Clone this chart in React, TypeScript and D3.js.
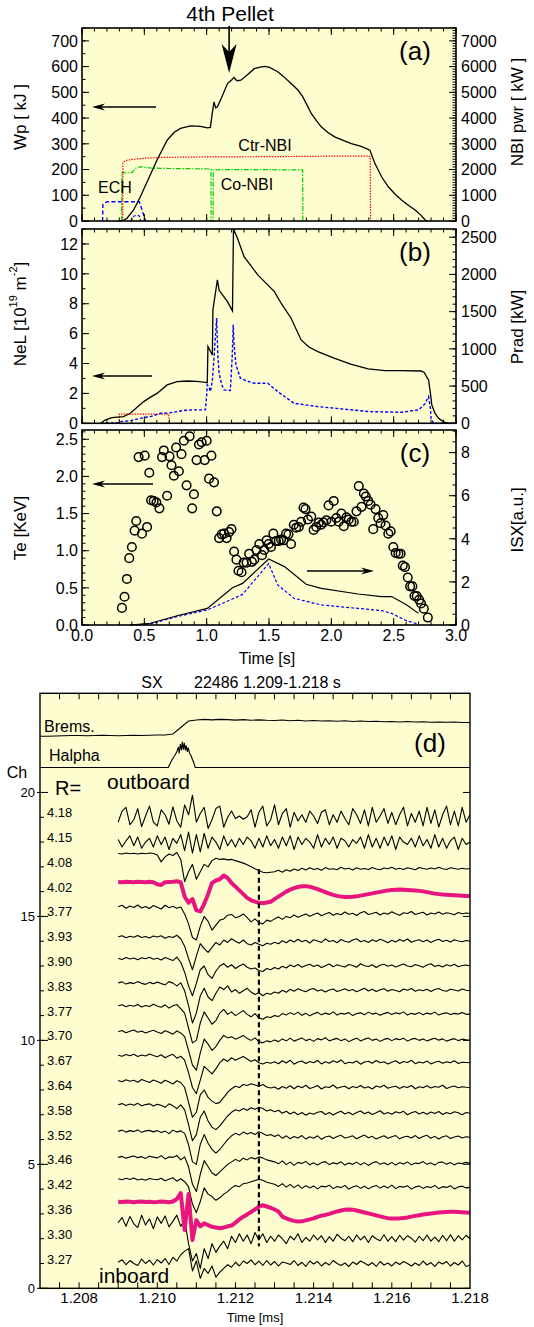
import React from 'react';
import * as d3 from 'd3';

// ---------- (a) stored energy and heating power ----------
const wpTime = [0.29, 0.33, 0.36, 0.414, 0.468, 0.53, 0.602, 0.683, 0.74, 0.79, 0.871, 0.95, 1.005, 1.03, 1.045, 1.059, 1.072, 1.086, 1.12, 1.167, 1.2, 1.22, 1.232, 1.245, 1.274, 1.32, 1.382, 1.43, 1.462, 1.5, 1.57, 1.62, 1.677, 1.73, 1.77, 1.8, 1.839, 1.88, 1.919, 1.97, 2.027, 2.1, 2.161, 2.24, 2.31, 2.349, 2.403, 2.457, 2.51, 2.565, 2.62, 2.672, 2.72, 2.753, 2.77];
const wpValue = [0, 2, 10, 43, 94, 160, 237, 314, 345, 360, 370, 368, 362, 364, 420, 463, 440, 444, 480, 534, 548, 558, 550, 545, 547, 565, 592, 598, 601, 598, 580, 560, 534, 510, 483, 455, 418, 390, 366, 345, 327, 312, 301, 290, 275, 224, 172, 133, 105, 81, 60, 43, 22, 4, 0];

const ctrNbiTime = [0.326, 0.328, 0.335, 0.36, 0.42, 0.5, 0.63, 0.8, 1.0, 1.5, 2.0, 2.3, 2.312, 2.315];
const ctrNbiValue = [0, 2240, 2300, 2360, 2400, 2440, 2470, 2480, 2490, 2500, 2520, 2520, 2500, 0];

const coNbiTime = [0.318, 0.32, 0.33, 0.36, 0.4, 0.43, 0.47, 0.55, 0.7, 0.9, 1.035, 1.036, 1.052, 1.053, 1.2, 1.4, 1.6, 1.77, 1.772];
const coNbiValue = [0, 1875, 1880, 1870, 1880, 2050, 2110, 2060, 2040, 2030, 2020, 0, 0, 1990, 2000, 2000, 1990, 1990, 0];

const echTime = [0.165, 0.168, 0.2, 0.46, 0.49, 0.51];
const echValue = [0, 650, 750, 750, 300, 0];
const ech2Time = [0.39, 0.41, 0.44, 0.46, 0.47];
const ech2Value = [0, 180, 230, 200, 0];

// ---------- (b) line density and radiated power ----------
const nelTime = [0.15, 0.185, 0.24, 0.333, 0.387, 0.44, 0.495, 0.55, 0.602, 0.683, 0.763, 0.844, 0.92, 1.005, 1.01, 1.046, 1.05, 1.06, 1.086, 1.1, 1.167, 1.207, 1.215, 1.247, 1.3, 1.41, 1.543, 1.6, 1.677, 1.758, 1.82, 1.892, 2.027, 2.161, 2.296, 2.43, 2.565, 2.72, 2.745, 2.765, 2.78, 2.795, 2.806, 2.83, 2.86, 2.9, 2.94, 3.0];
const nelValue = [0, 0.22, 0.38, 0.45, 0.67, 1.05, 1.45, 1.75, 2.0, 2.57, 2.79, 2.83, 2.8, 2.72, 5.13, 4.57, 7.6, 8.14, 9.6, 8.9, 8.14, 7.52, 13.0, 12.38, 11.15, 9.93, 8.81, 8.0, 7.03, 5.58, 5.1, 4.8, 4.35, 3.95, 3.64, 3.52, 3.52, 3.5, 3.4, 3.1, 2.9, 2.0, 1.23, 0.7, 0.33, 0.1, 0, 0];

const pradTime = [0.15, 0.3, 0.306, 0.36, 0.4, 0.468, 0.55, 0.63, 0.7, 0.763, 0.83, 0.898, 0.99, 1.0, 1.005, 1.02, 1.03, 1.045, 1.06, 1.08, 1.09, 1.1, 1.12, 1.14, 1.19, 1.205, 1.213, 1.22, 1.235, 1.27, 1.32, 1.38, 1.49, 1.57, 1.7, 1.89, 2.03, 2.3, 2.56, 2.7, 2.75, 2.78, 2.795, 2.8, 2.82, 3.0];
const pradValue = [0, 10, 22, 30, 40, 67, 90, 135, 140, 157, 175, 180, 180, 380, 516, 480, 426, 560, 900, 1414, 900, 673, 520, 449, 440, 900, 1324, 1050, 785, 606, 570, 538, 538, 426, 269, 224, 202, 157, 148, 180, 260, 359, 200, 67, 0, 0];

const nelRefTime = [0.298, 0.3, 0.696, 0.7];
const nelRefValue = [0, 0.62, 0.62, 0];

// ---------- (c) electron temperature and soft X-ray ----------
const teTime = [0.32, 0.341, 0.36, 0.379, 0.4, 0.422, 0.435, 0.481, 0.522, 0.454, 0.503, 0.54, 0.554, 0.575, 0.597, 0.621, 0.642, 0.656, 0.683, 0.702, 0.718, 0.737, 0.755, 0.777, 0.798, 0.817, 0.839, 0.863, 0.884, 0.898, 0.919, 0.938, 0.96, 0.984, 1.0, 1.019, 1.038, 1.059, 1.081, 1.1, 1.121, 1.14, 1.16, 1.18, 1.199, 1.22, 1.239, 1.255, 1.28, 1.296, 1.32, 1.341, 1.363, 1.382, 1.4, 1.422, 1.444, 1.462, 1.481, 1.497, 1.516, 1.535, 1.556, 1.578, 1.597, 1.616, 1.637, 1.656, 1.677, 1.699, 1.718, 1.739, 1.758, 1.777, 1.793, 1.812, 1.839, 1.858, 1.879, 1.9, 1.919, 1.938, 1.96, 1.978, 2.0, 2.019, 2.04, 2.059, 2.081, 2.1, 2.121, 2.14, 2.161, 2.18, 2.202, 2.22, 2.242, 2.261, 2.277, 2.296, 2.315, 2.336, 2.355, 2.376, 2.395, 2.417, 2.435, 2.457, 2.476, 2.497, 2.516, 2.538, 2.556, 2.573, 2.591, 2.613, 2.632, 2.65, 2.667, 2.685, 2.704, 2.72, 2.742, 2.774];
const teValue = [0.23, 0.38, 0.62, 0.9, 1.05, 1.27, 1.4, 1.23, 1.32, 2.26, 2.28, 2.05, 1.68, 1.67, 1.65, 1.57, 2.26, 2.35, 1.74, 2.27, 2.15, 2.01, 2.39, 2.07, 2.3, 2.48, 1.88, 2.54, 1.57, 1.76, 2.22, 2.43, 2.46, 2.22, 2.48, 1.97, 2.28, 1.92, 1.53, 1.17, 1.22, 1.23, 1.17, 1.25, 1.29, 0.99, 0.88, 0.73, 0.71, 0.84, 0.84, 0.96, 0.85, 0.88, 1.01, 1.09, 0.94, 1.01, 1.14, 1.09, 1.05, 1.23, 1.13, 1.13, 1.15, 1.14, 1.23, 1.22, 1.09, 1.35, 1.31, 1.32, 1.39, 1.58, 1.56, 1.42, 1.46, 1.28, 1.32, 1.38, 1.35, 1.38, 1.41, 1.61, 1.39, 1.67, 1.44, 1.39, 1.5, 1.33, 1.45, 1.42, 1.39, 1.39, 1.53, 1.87, 1.59, 1.77, 1.73, 1.67, 1.62, 1.29, 1.56, 1.44, 1.37, 1.48, 1.34, 1.23, 1.26, 1.05, 0.97, 0.96, 0.96, 0.8, 0.78, 0.64, 0.52, 0.52, 0.39, 0.39, 0.34, 0.29, 0.22, 0.1];

const isxTime = [0.387, 0.548, 0.763, 1.005, 1.207, 1.288, 1.497, 1.624, 1.798, 1.919, 2.215, 2.403, 2.484, 2.605, 2.699];
const isxValue = [0, 0.08, 0.43, 0.77, 1.73, 1.93, 3.06, 2.71, 1.89, 1.7, 1.44, 1.32, 1.32, 0.93, 0.54];
const isx2Time = [0.387, 0.548, 0.763, 1.005, 1.207, 1.288, 1.497, 1.57, 1.7, 1.919, 2.215, 2.403, 2.484, 2.59, 2.7];
const isx2Value = [0, 0.05, 0.39, 0.7, 1.21, 1.42, 2.85, 1.86, 1.24, 0.93, 0.77, 0.67, 0.54, 0.23, 0.03];

// ---------- (d) SX array, 22486, 1.209-1.218 s ----------
// Each trace: offset from its channel number, in 1/100 channel, one sample per 0.1 us from 1.209
const sxStart = 1.209;
const sxStep = 0.0001;
const channelR = ['3.27', '3.30', '3.36', '3.42', '3.46', '3.52', '3.58', '3.64', '3.67', '3.70', '3.77', '3.83', '3.90', '3.93', '3.77', '4.02', '4.08', '4.15', '4.18'];
const highlighted = [3, 16];

const sxCh1 = [5, 15, -5, 12, 0, -8, 18, 0, 14, -6, 16, 2, 20, -4, 25, 10, 35, 50, 60, -30, 10, -60, -20, -40, -10, -55, -35, -20, -5, -15, 5, -10, 10, 0, 15, -5, 10, -8, 12, -6, 8, -10, 6, 2, -4, 12, -8, 5, -12, 10, -2, 8, -10, 4, -6, 12, 0, -8, 2, -12, 6, -4, 10, 2, -8, 4, -12, 8, -6, 2, -10, 6, -4, 8, 0, -10, 2, -8, 10, -6, 4, -12, 6, -2, 8, -10, 4, -6, 10, -12, -6];
const sxCh2 = [65, 85, 50, 90, 60, 45, 95, 55, 80, 40, 88, 62, 92, 48, 70, 95, 50, 75, -20, -90, -60, -120, -40, -80, -20, -55, -30, -10, -40, 10, -15, 20, -10, 15, -20, 25, -5, 20, -15, 10, -10, 15, 0, -20, 10, -5, 20, -15, 5, -10, 15, -5, 12, -15, 8, -10, 18, 2, -8, 10, -12, 15, -5, 10, -15, 12, 0, -8, 16, -10, 8, -12, 14, -6, 12, 2, -14, 10, -8, 15, -10, 6, -12, 14, -8, 16, -10, 12, -5, 14, 0];
const sxCh3 = [49, 48, 50, 49, 47, 49, 50, 48, 49, 47, 48, 50, 49, 47, 50, 60, 84, -65, 80, -105, -25, -50, -38, -45, -52, -55, -58, -55, -50, -47, -35, -22, -11, -2, 8, 18, 30, 35, 30, 25, 18, 10, -11, -18, -24, -28, -31, -30, -26, -22, -18, -12, -7, -4, 0, 5, 10, 14, 17, 18, 17, 14, 10, 6, 2, -2, -6, -10, -14, -17, -18, -18, -18, -16, -14, -11, -8, -5, -2, 0, 2, 4, 6, 7, 8, 9, 9, 8, 7, 6, 5];
const sxCh4 = [42, 38, 44, 39, 45, 37, 41, 36, 43, 40, 38, 44, 34, 40, 46, 32, 42, 30, 10, -60, -95, -50, 5, -20, -30, -45, -35, -20, -10, 5, 15, 10, 22, 25, 30, 35, 40, 36, 28, 24, 20, 11, 22, 8, 19, 6, 17, 3, 14, 5, 13, 1, 12, 9, 16, 2, 11, 6, 15, 0, 9, 14, 3, 12, 1, 10, 15, 4, 13, 5, 16, 2, 11, 8, 14, 0, 9, 13, 3, 11, 6, 15, 2, 10, 7, 14, 1, 9, 12, 5, 7];
const sxCh5 = [28, 32, 25, 30, 34, 27, 31, 24, 33, 29, 26, 35, 22, 30, 28, 36, 18, 30, -10, -80, -110, -40, 15, -10, -35, -45, -30, -15, 0, 10, 20, 12, 25, 18, 28, 22, 30, 26, 18, 14, 10, 2, 14, -1, 9, -4, 8, 3, 12, -2, 6, -3, 7, 11, -1, 6, 2, 10, -3, 5, 0, 9, -2, 7, -4, 5, 11, 0, 6, -2, 8, -3, 7, 1, 10, -2, 5, 3, 11, 0, 6, -3, 8, 9, 0, 7, -2, 5, 3, 8, 4];
const sxCh6 = [33, 38, 30, 36, 32, 39, 29, 35, 37, 31, 36, 28, 34, 24, 38, 30, 35, 25, -20, -90, -100, -20, 20, -15, -40, -55, -40, -20, 0, 15, 25, 18, 30, 22, 28, 20, 32, 24, 16, 20, 12, 19, 5, 15, 3, 12, 6, 16, 2, 11, 5, 15, 1, 10, 14, 4, 12, 17, 6, 10, 15, 3, 11, 18, 7, 13, 2, 9, 15, 5, 11, 16, 3, 10, 13, 6, 16, 4, 12, 17, 5, 13, 2, 11, 15, 4, 10, 14, 6, 11, 9];
const sxCh7 = [40, 45, 37, 43, 38, 46, 36, 41, 44, 35, 42, 38, 30, 44, 36, 25, 40, 20, -40, -105, -80, -10, 15, -25, -50, -60, -45, -25, -5, 10, 20, 15, 25, 18, 28, 22, 30, 25, 15, 20, 12, 18, 6, 14, 3, 11, 0, 9, -2, 7, 2, 10, 13, 1, 9, -1, 8, 14, 3, 10, 0, 9, 15, 4, 11, 1, 8, 16, 3, 9, 2, 12, 7, 14, 0, 8, 13, 3, 10, 2, 11, 5, 13, 1, 9, 4, 12, 8, 0, 9, 6];
const sxCh8 = [38, 33, 41, 35, 39, 31, 42, 36, 30, 40, 34, 27, 39, 32, 24, 37, 30, 10, -50, -110, -90, -20, 0, -30, -45, -55, -50, -30, -10, 5, 15, 10, 22, 18, 25, 20, 15, 22, 12, 8, 12, 3, 14, 7, 17, 5, 16, 9, 19, 6, 11, 18, 4, 13, 10, 20, 7, 12, 15, 5, 14, 9, 18, 8, 13, 4, 16, 11, 19, 7, 12, 15, 6, 14, 10, 18, 5, 13, 9, 17, 8, 14, 11, 19, 6, 12, 16, 9, 13, 11, 10];
const sxCh9 = [40, 36, 43, 38, 44, 35, 41, 37, 45, 39, 34, 42, 30, 38, 44, 28, 36, 20, -30, -90, -115, -60, -5, -20, -35, -15, 10, 25, 15, 30, 20, 28, 35, 25, 15, 22, 10, 5, 12, 8, 14, 6, 18, 9, 20, 4, 13, 17, 7, 15, 10, 19, 5, 14, 8, 18, 11, 21, 6, 12, 9, 17, 4, 13, 16, 8, 19, 10, 14, 5, 12, 18, 7, 15, 11, 20, 6, 13, 9, 17, 5, 12, 16, 8, 14, 10, 18, 7, 12, 11, 10];
const sxCh10 = [35, 40, 31, 37, 42, 33, 38, 30, 36, 41, 34, 28, 39, 33, 25, 38, 30, 15, -40, -100, -120, -50, 5, -15, -40, -25, 0, 20, 10, 15, 5, 12, 20, 8, 0, 10, -5, -10, -2, -6, 2, -5, 6, -2, 9, -3, 4, 10, -1, 5, -4, 7, 2, 11, -2, 4, 8, -1, 6, -5, 3, 9, -2, 5, 10, 0, 6, -4, 4, 8, -1, 7, 3, 9, -3, 5, 8, 0, 6, -2, 4, 9, 1, 6, -3, 3, 7, -1, 5, 2, 0];
const sxCh11 = [40, 44, 36, 42, 38, 45, 35, 41, 37, 46, 39, 34, 43, 30, 40, 45, 28, 10, -50, -110, -100, -30, 15, -10, -35, -20, 10, 25, 5, 15, 0, 10, 20, 5, -5, 8, -10, -15, -5, -8, 0, -4, 8, 2, 12, 4, 14, 1, 9, -1, 7, 13, 3, 10, 5, 15, 2, 9, 6, 12, 0, 8, 11, 3, 14, 6, 10, 1, 8, 13, 4, 11, 7, 15, 2, 9, 5, 12, 3, 10, 6, 14, 2, 8, 11, 4, 9, 6, 12, 5, 6];
const sxCh12 = [32, 36, 27, 33, 29, 37, 30, 26, 34, 28, 35, 29, 24, 37, 31, 20, 32, 0, -60, -130, -90, -20, 10, -25, -40, -10, 15, 5, 20, -5, 5, -10, 0, 10, -5, -15, -8, -20, -10, -14, -5, -10, 2, -6, 6, -2, 8, 1, -4, 5, 9, -1, 4, -5, 3, 7, -3, 2, 8, 0, 5, -4, 3, 10, -1, 6, -3, 4, 8, -2, 5, 1, -4, 7, 2, 9, -2, 4, 0, 6, -3, 5, 9, 1, -2, 6, 3, -1, 7, 2, 0];
const sxCh13 = [30, 26, 34, 28, 32, 25, 33, 29, 35, 27, 31, 24, 34, 28, 22, 36, 15, -25, -80, -120, -70, -15, 0, -35, -50, -20, 0, 10, -5, 5, -10, 0, 8, -5, -12, -8, -18, -22, -10, -15, -6, -12, -1, -8, 4, -3, 6, -5, 2, 7, -2, 4, -6, 1, 8, -3, 5, 0, -4, 6, 2, -5, 9, 1, -2, 5, -6, 3, 7, -1, 4, -4, 2, 8, 0, -3, 6, 1, -5, 4, 9, -2, 3, -4, 5, 0, 7, -3, 2, 4, 0];
const sxCh14 = [18, 22, 14, 20, 16, 23, 15, 19, 13, 21, 17, 22, 12, 19, 15, 24, 10, -20, -70, -115, -60, -10, -30, -45, -25, -5, -15, 5, -5, 10, 0, -8, 5, -10, -15, -5, -12, -18, -8, -12, -4, -10, 2, -6, 5, -3, 8, -2, 4, -7, 6, 1, -5, 9, -1, 3, -6, 7, 0, -4, 5, 10, -2, 3, -5, 6, -1, 8, 2, -6, 4, -3, 7, 0, 9, -4, 2, 6, -2, 5, -5, 3, 8, -1, 4, -3, 6, 1, -2, 3, 0];
const sxCh15 = [39, 45, 33, 42, 36, 46, 34, 40, 32, 44, 37, 30, 45, 35, 41, 33, 38, 10, -30, -85, -95, -40, 0, -20, -55, -35, -15, -10, 5, 8, -5, 0, 10, -5, -22, -10, -25, -30, -15, -20, -10, -2, -12, 0, -5, 6, -3, 4, 10, 1, 8, 14, 3, 10, 16, 5, 12, 7, 18, 9, 13, 4, 15, 20, 8, 12, 17, 6, 14, 9, 19, 11, 5, 15, 12, 20, 8, 13, 17, 6, 14, 10, 18, 9, 15, 12, 7, 16, 11, 14, 12];
const sxCh16 = [39, 38, 40, 39, 38, 40, 39, 38, 40, 38, 30, 27, 38, 39, 40, 42, 38, -20, -45, -30, -75, -80, -50, -10, 35, 45, 50, 65, 55, 35, 20, 5, -10, -25, -35, -40, -45, -47, -44, -41, -30, -20, -10, 0, 8, 14, 19, 22, 22, 20, 15, 10, 4, -2, -8, -13, -17, -20, -22, -22, -21, -19, -16, -13, -10, -7, -4, -1, 2, 5, 7, 8, 9, 8, 7, 6, 5, 3, 1, -2, -5, -8, -10, -12, -13, -14, -15, -16, -17, -18, -18];
const sxCh17 = [54, 52, 56, 53, 55, 52, 55, 53, 56, 54, 48, 20, 40, 52, 46, 58, 30, -60, -20, 10, -50, -20, 10, 0, 25, 35, 30, 32, 28, 30, 25, 20, 15, 8, 0, -8, -15, -22, -24, -22, -20, -14, -22, -12, -18, -9, -15, -6, -13, -4, -11, -7, -14, -3, -10, -8, -12, -2, -9, -6, -13, -4, -10, -7, -11, -3, -9, -12, -5, -8, -2, -10, -6, -11, -4, -8, -12, -3, -7, -10, -5, -9, -2, -8, -11, -4, -7, -10, -6, -9, -7];
const sxCh18 = [10, -20, 5, 25, -15, 20, -25, 0, 15, -20, 25, -10, 20, -30, 15, -5, 30, -35, 40, -45, 30, -40, 35, -25, 20, 0, -30, 25, -15, 10, -20, 15, -10, 20, 5, -25, 15, -20, 25, -15, 10, -25, 20, -15, 25, -30, 20, -10, 15, 0, -25, 30, -20, 15, -10, 20, -25, 15, 5, -20, 10, -5, 20, -25, 30, -20, 15, -25, 20, -15, 25, -30, 20, 0, -10, 15, -20, 25, -15, 10, -25, 30, -20, 15, -25, 5, 20, -30, 15, -10, 0];
const sxCh19 = [-19, 25, 40, -30, -10, 35, -38, 5, 45, -20, -35, 30, 10, -28, 42, -15, -40, 50, 10, 89, -20, 15, 40, -45, -10, 35, 45, -40, 0, 25, -5, 5, -8, 2, 30, -40, 20, 45, -35, -10, 50, -30, 15, 35, -40, 20, -15, 10, -20, 25, 5, -25, 20, 30, -30, 10, -20, 25, -5, -30, 35, 10, -25, 30, -35, 40, -20, 5, 35, -25, 20, -30, 10, 40, -35, 15, -20, 25, -35, 40, -25, 30, -40, 10, 45, -30, 25, -35, 40, -20, 10];
const sxTraces = [sxCh1, sxCh2, sxCh3, sxCh4, sxCh5, sxCh6, sxCh7, sxCh8, sxCh9, sxCh10, sxCh11, sxCh12, sxCh13, sxCh14, sxCh15, sxCh16, sxCh17, sxCh18, sxCh19];

// monitor signals above the array, in the same channel units
const bremsStart = 1.207;
const bremsStep = 0.0002;
const bremsValue = [22.27, 22.27, 22.28, 22.29, 22.3, 22.3, 22.29, 22.3, 22.31, 22.3, 22.29, 22.3, 22.31, 22.3, 22.31, 22.32, 22.32, 22.36, 22.62, 22.88, 22.92, 22.95, 22.93, 22.95, 22.94, 22.92, 22.94, 22.91, 22.93, 22.91, 22.9, 22.92, 22.89, 22.91, 22.88, 22.9, 22.88, 22.89, 22.87, 22.89, 22.86, 22.88, 22.86, 22.87, 22.85, 22.86, 22.84, 22.86, 22.84, 22.85, 22.83, 22.84, 22.83, 22.84, 22.82, 22.82];
const halphaTime = [1.207, 1.21028, 1.21037, 1.21045, 1.2105, 1.21054, 1.21056, 1.21059, 1.21062, 1.21064, 1.21067, 1.21069, 1.21072, 1.21074, 1.21077, 1.21079, 1.21083, 1.21086, 1.2109, 1.21094, 1.21097, 1.218];
const halphaValue = [21.01, 21.01, 21.3, 21.5, 21.64, 21.84, 21.57, 21.95, 21.7, 22.04, 21.73, 22.0, 21.7, 21.9, 21.64, 21.81, 21.57, 21.5, 21.33, 21.17, 21.01, 21.01];
const markerTime = 1.2126;

const FONT = '"Liberation Sans", Arial, Helvetica, sans-serif';
const BG = '#fefdd0';
const PINK = '#e8157f';

type Scale = d3.ScaleLinear<number, number>;

const hArrow = (x1: number, x2: number, y: number, k: string) => {
  const d = Math.sign(x2 - x1);
  return (
    <g key={k}>
      <line x1={x1} x2={x2 - d * 8} y1={y} y2={y} stroke="#000" strokeWidth={1.3} />
      <path d={`M${x2},${y} L${x2 - d * 13},${y - 3.5} L${x2 - d * 9},${y} L${x2 - d * 13},${y + 3.5} Z`} fill="#000" />
    </g>
  );
};

const vTicks = (vals: number[], y: Scale, x: number, len: number, k: string) =>
  vals.map((v, i) => <line key={k + i} x1={x} x2={x + len} y1={y(v)} y2={y(v)} />);
const hTicks = (vals: number[], x: Scale, y: number, len: number, k: string) =>
  vals.map((v, i) => <line key={k + i} x1={x(v)} x2={x(v)} y1={y} y2={y + len} />);

export default function App() {
  const L = 82;
  const R = 456;
  const xT = d3.scaleLinear().domain([0, 3]).range([L, R]);

  const panels = [
    {
      k: 'a', top: 28, bottom: 221,
      yl: d3.scaleLinear().domain([0, 750]).range([221, 28]),
      yr: d3.scaleLinear().domain([0, 7500]).range([221, 28]),
      lMajor: d3.range(0, 701, 100), lMinor: d3.range(0, 751, 50),
      rMajor: d3.range(0, 7001, 1000), rMinor: d3.range(0, 7501, 100),
      lFmt: d3.format('d'), rFmt: d3.format('d'),
    },
    {
      k: 'b', top: 229, bottom: 423.3,
      yl: d3.scaleLinear().domain([0, 13]).range([423.3, 229]),
      yr: d3.scaleLinear().domain([0, 2610]).range([423.3, 229]),
      lMajor: d3.range(0, 13, 2), lMinor: d3.range(0, 13.1, 1),
      rMajor: d3.range(0, 2501, 500), rMinor: d3.range(0, 2601, 100),
      lFmt: d3.format('d'), rFmt: d3.format('d'),
    },
    {
      k: 'c', top: 430, bottom: 625,
      yl: d3.scaleLinear().domain([0, 2.625]).range([625, 430]),
      yr: d3.scaleLinear().domain([0, 9.05]).range([625, 430]),
      lMajor: d3.range(0, 6).map((n) => n / 2), lMinor: d3.range(0, 27).map((n) => n / 10),
      rMajor: d3.range(0, 9, 2), rMinor: d3.range(0, 19).map((n) => n / 2),
      lFmt: d3.format('.1f'), rFmt: d3.format('d'),
    },
  ];
  const [pa, pb, pc] = panels;

  const line = (ts: number[], vs: number[], y: Scale) =>
    d3.line<number>().x((_, i) => xT(ts[i])).y((v) => y(v))(vs) ?? '';

  const xMajor = d3.range(0, 7).map((n) => n / 2);
  const xMinor = d3.range(0, 31).map((n) => n / 10);

  // panel (d) scales
  const xS = d3.scaleLinear().domain([1.207, 1.218]).range([40, 470]);
  const yCh = d3.scaleLinear().domain([0, 24]).range([1288.3, 693.3]);
  const sxLine = (arr: number[], ch: number) =>
    d3.line<number>().x((_, i) => xS(sxStart + i * sxStep)).y((v) => yCh(ch + v / 100))(arr) ?? '';
  const bremsPath = d3.line<number>().x((_, i) => xS(bremsStart + i * bremsStep)).y((v) => yCh(v))(bremsValue) ?? '';
  const halphaPath = d3.line<number>().x((_, i) => xS(halphaTime[i])).y((v) => yCh(v))(halphaValue) ?? '';
  const dTicks = d3.range(1, 22).map((n) => 1.207 + n * 0.0005);
  const dLabels = d3.range(0, 6).map((n) => 1.208 + n * 0.002);

  const tick = 16;

  return (
    <svg width={534} height={1327} style={{ position: 'absolute', left: 0, top: 0 }} fontFamily={FONT}>
      <rect width={534} height={1327} fill="#fff" />

      {/* backgrounds */}
      {panels.map((p) => (
        <rect key={'bg' + p.k} x={L} y={p.top} width={R - L} height={p.bottom - p.top} fill={BG} />
      ))}

      {/* (a) */}
      <g fill="none">
        <path d={line(echTime, echValue, pa.yr)} stroke="#0000ff" strokeWidth={1.4} strokeDasharray="4,2.5" />
        <path d={line(ech2Time, ech2Value, pa.yr)} stroke="#0000ff" strokeWidth={1.2} strokeDasharray="3,2" />
        <path d={line(coNbiTime, coNbiValue, pa.yr)} stroke="#00cc00" strokeWidth={1.2} strokeDasharray="5,1.5,1.5,1.5" />
        <path d={line(ctrNbiTime, ctrNbiValue, pa.yr)} stroke="#ff0000" strokeWidth={1.2} strokeDasharray="1.5,1.2" />
        <path d={line(wpTime, wpValue, pa.yl)} stroke="#000" strokeWidth={1.3} />
      </g>
      <g fontSize={16} textAnchor="middle">
        <text x={265} y={151}>Ctr-NBI</text>
        <text x={247} y={190}>Co-NBI</text>
        <text x={115} y={193}>ECH</text>
      </g>

      {/* (b) */}
      <g fill="none">
        <path d={line(nelRefTime, nelRefValue, pb.yl)} stroke="#ff0000" strokeWidth={1.2} strokeDasharray="1.5,1.2" />
        <path d={line(pradTime, pradValue, pb.yr)} stroke="#0000ff" strokeWidth={1.4} strokeDasharray="3,2" />
        <path d={line(nelTime, nelValue, pb.yl)} stroke="#000" strokeWidth={1.3} />
      </g>

      {/* (c) */}
      <g fill="none">
        <path d={line(isx2Time, isx2Value, pc.yr)} stroke="#0000ff" strokeWidth={1.2} strokeDasharray="3,2" />
        <path d={line(isxTime, isxValue, pc.yr)} stroke="#000" strokeWidth={1.2} />
        {teTime.map((t, i) => (
          <circle key={'te' + i} cx={xT(t)} cy={pc.yl(teValue[i])} r={4.3} stroke="#000" strokeWidth={1.5} />
        ))}
      </g>

      {/* frames and axes */}
      {panels.map((p) => (
        <g key={'ax' + p.k}>
          <rect x={L} y={p.top} width={R - L} height={p.bottom - p.top} fill="none" stroke="#000" strokeWidth={1.6} />
          <g stroke="#000" strokeWidth={1}>
            {vTicks(p.lMajor, p.yl, L, 7, 'lM')}
            {vTicks(p.lMinor, p.yl, L, 3.5, 'lm')}
            {vTicks(p.rMajor, p.yr, R, -7, 'rM')}
            {vTicks(p.rMinor, p.yr, R, -3.5, 'rm')}
            {hTicks(xMajor, xT, p.bottom, -7, 'bM')}
            {hTicks(xMinor, xT, p.bottom, -3.5, 'bm')}
            {hTicks(xMajor, xT, p.top, 7, 'tM')}
            {hTicks(xMinor, xT, p.top, 3.5, 'tm')}
          </g>
          <g fontSize={tick}>
            {p.lMajor.map((v, i) => (
              <text key={'lt' + i} x={L - 4} y={p.yl(v)} dy="0.36em" textAnchor="end">{p.lFmt(v)}</text>
            ))}
            {p.rMajor.map((v, i) => (
              <text key={'rt' + i} x={R + 5} y={p.yr(v)} dy="0.36em">{p.rFmt(v)}</text>
            ))}
          </g>
          <text x={415} y={p.top + 32} fontSize={26} textAnchor="middle">({p.k})</text>
        </g>
      ))}
      <g fontSize={tick} textAnchor="middle">
        {xMajor.map((v, i) => (
          <text key={'xl' + i} x={xT(v)} y={641}>{d3.format('.1f')(v)}</text>
        ))}
      </g>
      <text x={267} y={664} fontSize={16} textAnchor="middle">Time [s]</text>

      {/* axis titles */}
      <g fontSize={17} textAnchor="middle" dominantBaseline="central">
        <text transform="translate(20,117) rotate(-90)">Wp [ kJ ]</text>
        <text transform="translate(517,112) rotate(-90)">NBI pwr [ kW ]</text>
        <text transform="translate(20,314) rotate(-90)">
          NeL [10<tspan dy="-7" fontSize={11}>19</tspan><tspan dy="7"> m</tspan><tspan dy="-7" fontSize={11}>-2</tspan><tspan dy="7">]</tspan>
        </text>
        <text transform="translate(517,327) rotate(-90)">Prad [kW]</text>
        <text transform="translate(20,528) rotate(-90)">Te [KeV]</text>
        <text transform="translate(517,520) rotate(-90)">ISX[a.u.]</text>
      </g>

      {/* annotations */}
      <text x={230} y={21} fontSize={21} textAnchor="middle">4th Pellet</text>
      <line x1={xT(1.18)} x2={xT(1.18)} y1={26} y2={55} stroke="#000" strokeWidth={1.6} />
      <path d={`M${xT(1.18)},73 L${xT(1.18) - 7.5},44 L${xT(1.18)},52 L${xT(1.18) + 7.5},44 Z`} fill="#000" />
      {hArrow(156, 92, 107, 'arA')}
      {hArrow(152, 92, 376, 'arB')}
      {hArrow(153, 92, 484, 'arC1')}
      {hArrow(307, 374, 571, 'arC2')}

      {/* (d) */}
      <rect x={40} y={693.3} width={430} height={597} fill={BG} />
      <path d={bremsPath} fill="none" stroke="#000" strokeWidth={1.1} />
      <path d={halphaPath} fill="none" stroke="#000" strokeWidth={1.1} />
      <g fill="none" stroke="#000" strokeWidth={1.1} strokeLinejoin="round">
        {sxTraces.map((arr, k) =>
          highlighted.includes(k + 1) ? null : <path key={'sx' + k} d={sxLine(arr, k + 1)} />
        )}
      </g>
      <g fill="none" stroke={PINK} strokeWidth={4} strokeLinejoin="round">
        {sxTraces.map((arr, k) =>
          highlighted.includes(k + 1) ? <path key={'sxh' + k} d={sxLine(arr, k + 1)} /> : null
        )}
      </g>
      <line x1={xS(markerTime)} x2={xS(markerTime)} y1={yCh(16.9)} y2={yCh(1.7)} stroke="#000" strokeWidth={2.2} strokeDasharray="5,3.5" />
      <rect x={40} y={693.3} width={430} height={595} fill="none" stroke="#000" strokeWidth={1.4} />
      <g stroke="#000" strokeWidth={1}>
        {hTicks(dTicks, xS, 693.3, 6, 'dt')}
        {hTicks(dTicks, xS, 1288.3, -6, 'db')}
        {[0, 5, 10, 15, 20].map((c) => (
          <line key={'cM' + c} x1={37} x2={48} y1={yCh(c)} y2={yCh(c)} />
        ))}
        {[0, 5, 10, 15, 20].map((c) => (
          <line key={'cR' + c} x1={463} x2={470} y1={yCh(c)} y2={yCh(c)} />
        ))}
        {channelR.map((_, i) => (
          <line key={'cm' + i} x1={40} x2={44} y1={yCh(i + 1)} y2={yCh(i + 1)} />
        ))}
      </g>
      <g fontSize={13}>
        {[0, 5, 10, 15, 20].map((c) => (
          <text key={'cl' + c} x={35} y={yCh(c)} dy="0.36em" textAnchor="end">{c}</text>
        ))}
        {channelR.map((r, i) => (
          <text key={'rl' + i} x={47} y={yCh(i + 1)}>{r}</text>
        ))}
      </g>
      <g fontSize={15} textAnchor="middle">
        {dLabels.map((v, i) => (
          <text key={'dl' + i} x={xS(v)} y={1303}>{d3.format('.3f')(v)}</text>
        ))}
      </g>
      <text x={255} y={1322} fontSize={13} textAnchor="middle">Time [ms]</text>
      <text x={152} y={688} fontSize={16} textAnchor="middle">SX</text>
      <text x={194} y={688} fontSize={16}>22486 1.209-1.218 s</text>
      <text x={17} y={778} fontSize={16} textAnchor="middle">Ch</text>
      <text x={44} y={731.5} fontSize={16}>Brems.</text>
      <text x={49} y={760.5} fontSize={16}>Halpha</text>
      <text x={430} y={752} fontSize={26} textAnchor="middle">(d)</text>
      <text x={55} y={795} fontSize={20}>R=</text>
      <text x={107} y={789} fontSize={21}>outboard</text>
      <text x={99} y={1283} fontSize={21}>inboard</text>
    </svg>
  );
}
